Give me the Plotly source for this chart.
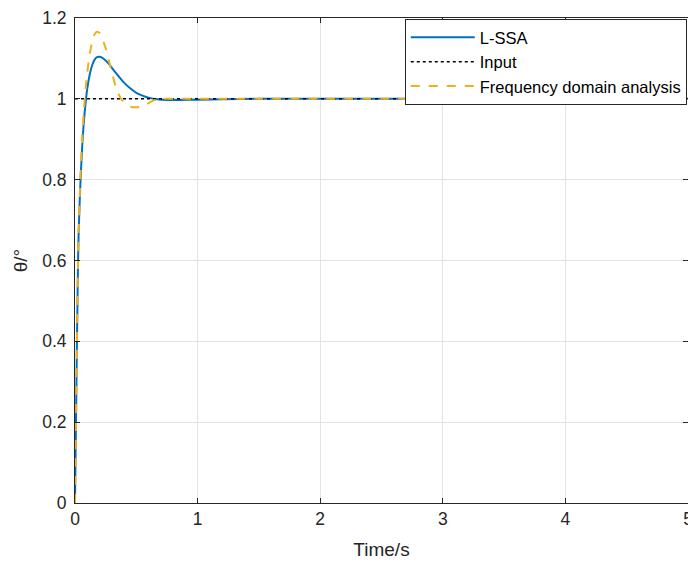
import plotly.graph_objects as go

# Step response samples (time in s, angle in degrees)
t_lssa = [0, 0.004, 0.008, 0.012, 0.016, 0.02, 0.025, 0.03, 0.04, 0.05, 0.06, 0.07, 0.08, 0.09,
          0.1, 0.12, 0.14, 0.16, 0.18, 0.2, 0.22, 0.25, 0.28, 0.31, 0.35, 0.4, 0.45, 0.5,
          0.55, 0.6, 0.67, 0.75, 0.85, 1.0, 1.2, 1.5, 2.0, 3.0, 4.0, 5.0]
y_lssa = [0, 0.1, 0.2, 0.3, 0.4, 0.49, 0.6, 0.67, 0.76, 0.83, 0.89, 0.935, 0.97, 1.0,
          1.025, 1.06, 1.083, 1.097, 1.103, 1.104, 1.102, 1.095, 1.085, 1.073, 1.058, 1.04, 1.026, 1.015,
          1.008, 1.003, 0.999, 0.997, 0.997, 0.998, 0.999, 1.0, 1.0, 1.0, 1.0, 1.0]

t_freq = [0, 0.004, 0.008, 0.012, 0.016, 0.02, 0.025, 0.03, 0.04, 0.05, 0.06, 0.07, 0.08, 0.09,
          0.1, 0.12, 0.14, 0.16, 0.18, 0.2, 0.22, 0.25, 0.28, 0.31, 0.34, 0.38, 0.42, 0.46,
          0.5, 0.54, 0.58, 0.62, 0.67, 0.72, 0.8, 0.9, 1.0, 1.5, 2.0, 3.0, 4.0, 5.0]
y_freq = [0, 0.1, 0.2, 0.3, 0.4, 0.49, 0.6, 0.67, 0.77, 0.85, 0.91, 0.96, 1.0, 1.035,
          1.065, 1.11, 1.142, 1.16, 1.166, 1.163, 1.152, 1.125, 1.09, 1.055, 1.022, 0.998, 0.985, 0.98,
          0.979, 0.981, 0.986, 0.993, 0.999, 1.0, 1.0, 1.0, 1.0, 1.0, 1.0, 1.0, 1.0, 1.0]

t_input = [0, 5]
y_input = [1, 1]

x_ticks = [0, 1, 2, 3, 4, 5]
x_labels = ["0", "1", "2", "3", "4", "5"]
y_ticks = [0, 0.2, 0.4, 0.6, 0.8, 1.0, 1.2]
y_labels = ["0", "0.2", "0.4", "0.6", "0.8", "1", "1.2"]

FONT = "Liberation Sans, Arial, Helvetica, sans-serif"
AXIS_COLOR = "#262626"

fig = go.Figure()
fig.add_trace(go.Scatter(x=t_lssa, y=y_lssa, mode="lines", name="L-SSA",
                         line=dict(color="#0072BD", width=2, shape="spline", smoothing=0.6)))
fig.add_trace(go.Scatter(x=t_input, y=y_input, mode="lines", name="Input",
                         line=dict(color="black", width=1.5, dash="dot")))
fig.add_trace(go.Scatter(x=t_freq, y=y_freq, mode="lines", name="Frequency domain analysis",
                         line=dict(color="#EDB120", width=2, dash="dash", shape="spline", smoothing=0.6)))

axis_common = dict(
    showgrid=True, gridcolor="#E3E3E3", gridwidth=1,
    showline=True, linecolor=AXIS_COLOR, linewidth=1, mirror="allticks",
    ticks="inside", ticklen=5, tickcolor=AXIS_COLOR,
    tickfont=dict(family=FONT, size=17.5, color=AXIS_COLOR),
    zeroline=False, ticklabeloverflow="allow", automargin=False,
)

fig.update_layout(
    width=688, height=562,
    margin=dict(l=75, r=0, t=18, b=59),
    paper_bgcolor="white", plot_bgcolor="white",
    font=dict(family=FONT, color=AXIS_COLOR),
    xaxis=dict(range=[0, 5], tickvals=x_ticks, ticktext=x_labels,
               title=dict(text="Time/s", font=dict(family=FONT, size=19, color=AXIS_COLOR), standoff=14),
               **axis_common),
    yaxis=dict(range=[0, 1.2], tickvals=y_ticks, ticktext=y_labels, ticklabelstandoff=4,
               title=dict(text="θ/°", font=dict(family=FONT, size=19, color=AXIS_COLOR), standoff=9),
               **axis_common),
    legend=dict(x=0.998, y=0.998, xanchor="right", yanchor="top",
                bgcolor="white", bordercolor=AXIS_COLOR, borderwidth=1,
                font=dict(family=FONT, size=16.5, color="black"),
                tracegroupgap=0, itemwidth=64),
    showlegend=True,
)

fig.write_html("out.html")
